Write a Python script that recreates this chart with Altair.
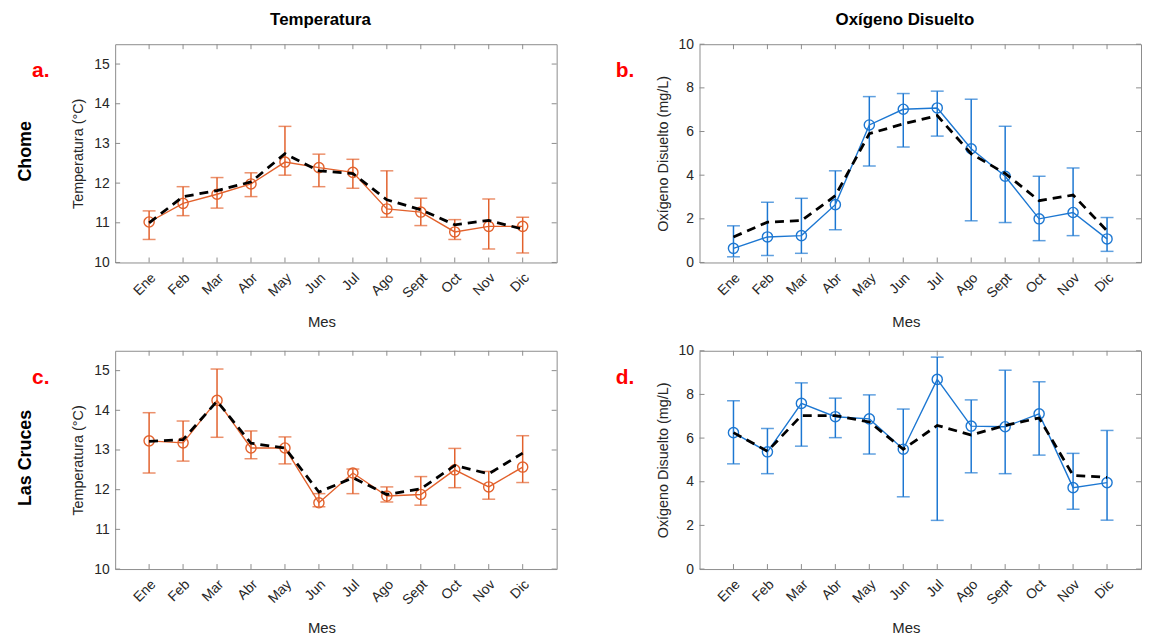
import altair as alt
import pandas as pd

months = ["Ene", "Feb", "Mar", "Abr", "May", "Jun", "Jul", "Ago", "Sept", "Oct", "Nov", "Dic"]

# Chome - Temperatura
mean_a = [11.02, 11.49, 11.72, 11.98, 12.53, 12.39, 12.27, 11.35, 11.27, 10.77, 10.91, 10.91]
hi_a = [11.30, 11.91, 12.14, 12.26, 13.43, 12.73, 12.60, 12.31, 11.62, 11.08, 11.60, 11.14]
lo_a = [10.58, 11.18, 11.37, 11.66, 12.20, 11.91, 11.87, 11.14, 10.93, 10.58, 10.34, 10.24]
dash_a = [11.00, 11.66, 11.81, 12.03, 12.74, 12.31, 12.24, 11.58, 11.33, 10.95, 11.06, 10.84]

# Chome - Oxigeno disuelto
mean_b = [0.65, 1.17, 1.23, 2.65, 6.30, 7.02, 7.08, 5.21, 3.95, 2.00, 2.29, 1.08]
hi_b = [1.68, 2.76, 2.94, 4.20, 7.60, 7.74, 7.85, 7.48, 6.24, 3.95, 4.33, 2.06]
lo_b = [0.26, 0.32, 0.42, 1.50, 4.42, 5.29, 5.79, 1.91, 1.83, 1.00, 1.23, 0.51]
dash_b = [1.17, 1.85, 1.92, 3.06, 5.90, 6.35, 6.73, 4.98, 4.08, 2.83, 3.09, 1.45]

# Las Cruces - Temperatura
mean_c = [13.23, 13.18, 14.25, 13.05, 13.05, 11.67, 12.42, 11.84, 11.88, 12.50, 12.07, 12.57]
hi_c = [13.94, 13.73, 15.04, 13.48, 13.33, 11.90, 12.52, 12.07, 12.33, 13.04, 12.46, 13.36]
lo_c = [12.42, 12.72, 13.32, 12.78, 12.65, 11.57, 11.90, 11.69, 11.61, 12.05, 11.76, 12.18]
dash_c = [13.22, 13.26, 14.23, 13.17, 13.05, 11.94, 12.30, 11.88, 12.02, 12.61, 12.40, 12.92]

# Las Cruces - Oxigeno disuelto
mean_d = [6.25, 5.37, 7.59, 6.98, 6.88, 5.49, 8.69, 6.55, 6.52, 7.11, 3.73, 3.96]
hi_d = [7.71, 6.44, 8.53, 7.83, 7.98, 7.33, 9.71, 7.75, 9.11, 8.58, 5.30, 6.35]
lo_d = [4.82, 4.37, 5.63, 6.02, 5.27, 3.31, 2.23, 4.41, 4.37, 5.22, 2.74, 2.24]
dash_d = [6.25, 5.40, 7.03, 7.03, 6.74, 5.49, 6.58, 6.14, 6.58, 6.92, 4.29, 4.20]

temp_ticks = [10, 11, 12, 13, 14, 15]
od_ticks = [0, 2, 4, 6, 8, 10]

ORANGE = "#E2612C"
BLUE = "#1C77D2"
AXC = "#8c8c8c"
TXT = "#262626"
FONT = "Liberation Sans"
W, H = 445, 220

month_nums = list(range(1, 13))
label_expr = "[" + ",".join("'%s'" % m for m in months) + "][datum.value - 1]"


def text_layer(txt, x, y, size, color="#000000", weight="bold", angle=0):
    return alt.Chart(pd.DataFrame({"t": [txt]})).mark_text(
        font=FONT, fontSize=size, fontWeight=weight, color=color, angle=angle,
        align="center", baseline="middle"
    ).encode(x=alt.value(x), y=alt.value(y), text="t:N")


def panel(mean, hi, lo, dash, color, ydom, yticks, ytitle, letter, row_label=None, col_title=None):
    df = pd.DataFrame({"m": month_nums, "mean": mean, "hi": hi, "lo": lo, "dash": dash})
    xs = alt.Scale(domain=[0, 13], nice=False, zero=False)
    ys = alt.Scale(domain=ydom, nice=False, zero=False)
    xax = alt.Axis(values=month_nums, labelExpr=label_expr, labelAngle=-45, labelAlign="right",
                   labelBaseline="middle", labelPadding=13, labelOffset=4, ticks=False,
                   domain=False, grid=False,
                   labelFont=FONT, labelFontSize=14, labelColor=TXT,
                   title="Mes", titleX=208, titlePadding=14, titleFont=FONT, titleFontSize=15,
                   titleFontWeight="normal", titleColor=TXT)
    yax = alt.Axis(values=yticks, ticks=False, domain=False, grid=False, title=ytitle,
                   labelFont=FONT, labelFontSize=14, labelColor=TXT, labelPadding=6,
                   titlePadding=8, titleFont=FONT, titleFontSize=14.5, titleFontWeight="normal",
                   titleColor=TXT)
    base = alt.Chart(df)
    x = alt.X("m:Q", scale=xs, axis=xax)

    xt = pd.DataFrame({"m": month_nums})
    xtick_b = alt.Chart(xt).mark_rule(color=AXC, strokeWidth=1).encode(
        x=alt.X("m:Q", scale=xs), y=alt.value(H), y2=alt.value(H - 5))
    xtick_t = alt.Chart(xt).mark_rule(color=AXC, strokeWidth=1).encode(
        x=alt.X("m:Q", scale=xs), y=alt.value(0), y2=alt.value(5))
    yt = pd.DataFrame({"v": yticks})
    ytick_l = alt.Chart(yt).mark_rule(color=AXC, strokeWidth=1).encode(
        y=alt.Y("v:Q", scale=ys), x=alt.value(0), x2=alt.value(5))
    ytick_r = alt.Chart(yt).mark_rule(color=AXC, strokeWidth=1).encode(
        y=alt.Y("v:Q", scale=ys), x=alt.value(W), x2=alt.value(W - 5))

    err = base.mark_rule(color=color, strokeWidth=1.5).encode(
        x=x, y=alt.Y("lo:Q", scale=ys, axis=yax), y2="hi:Q")
    cap_hi = base.mark_tick(color=color, orient="horizontal", size=13, thickness=1.5).encode(
        x=alt.X("m:Q", scale=xs), y=alt.Y("hi:Q", scale=ys))
    cap_lo = base.mark_tick(color=color, orient="horizontal", size=13, thickness=1.5).encode(
        x=alt.X("m:Q", scale=xs), y=alt.Y("lo:Q", scale=ys))
    line = base.mark_line(color=color, strokeWidth=1.4).encode(
        x=alt.X("m:Q", scale=xs), y=alt.Y("mean:Q", scale=ys))
    pts = base.mark_point(shape="circle", filled=False, color=color, size=105, strokeWidth=1.4,
                          opacity=1).encode(x=alt.X("m:Q", scale=xs), y=alt.Y("mean:Q", scale=ys))
    dashed = base.mark_line(color="#000000", strokeWidth=2.8, strokeDash=[9, 6]).encode(
        x=alt.X("m:Q", scale=xs), y=alt.Y("dash:Q", scale=ys))

    layers = [err, xtick_b, xtick_t, ytick_l, ytick_r, cap_hi, cap_lo, line, pts, dashed,
              text_layer(letter, -75, 27, 21, color="#ff0000")]
    if row_label:
        layers.append(text_layer(row_label, -90, 108, 18, angle=270))
    if col_title:
        layers.append(text_layer(col_title, 207, -24, 17))
    return alt.layer(*layers).properties(width=W, height=H)


pa = panel(mean_a, hi_a, lo_a, dash_a, ORANGE, [10, 15.5], temp_ticks, "Temperatura (°C)", "a.",
           row_label="Chome", col_title="Temperatura")
pb = panel(mean_b, hi_b, lo_b, dash_b, BLUE, [0, 10], od_ticks, "Oxígeno Disuelto (mg/L)", "b.",
           col_title="Oxígeno Disuelto")
pc = panel(mean_c, hi_c, lo_c, dash_c, ORANGE, [10, 15.5], temp_ticks, "Temperatura (°C)", "c.",
           row_label="Las Cruces")
pd_ = panel(mean_d, hi_d, lo_d, dash_d, BLUE, [0, 10], od_ticks, "Oxígeno Disuelto (mg/L)", "d.")

chart = alt.vconcat(
    alt.hconcat(pa, pb, spacing=58),
    alt.hconcat(pc, pd_, spacing=58),
    spacing=13,
).properties(
    padding={"left": 8, "top": 0, "right": 0, "bottom": 0},
    background="#ffffff",
).configure_view(
    stroke=AXC, strokeWidth=1
)

chart.save("out.html", embed_options={"renderer": "svg", "actions": False})
